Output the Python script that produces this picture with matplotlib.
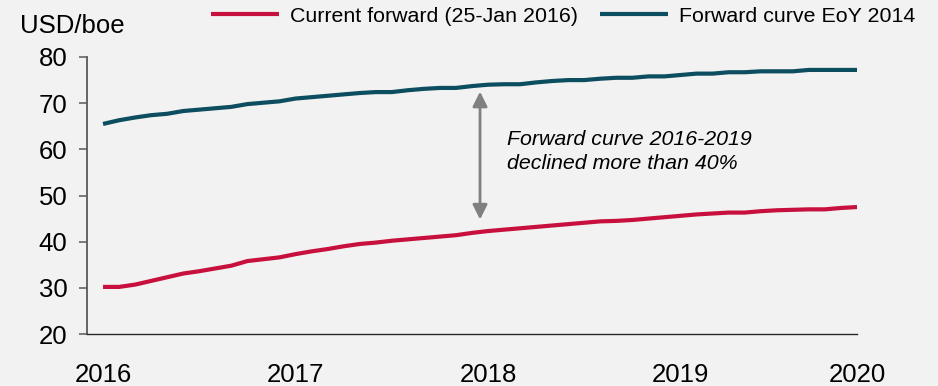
import matplotlib.pyplot as plt
import numpy as np

plt.rcParams["font.family"] = ["Liberation Sans", "DejaVu Sans"]

# monthly forward prices, Jan 2016 .. Dec 2019 (USD/boe)
current_forward = [30.2, 30.2, 30.7, 31.5, 32.3, 33.1, 33.6, 34.2, 34.8, 35.8, 36.2, 36.6,
                   37.3, 37.9, 38.4, 39.0, 39.5, 39.8, 40.2, 40.5, 40.8, 41.1, 41.4, 41.9,
                   42.3, 42.6, 42.9, 43.2, 43.5, 43.8, 44.1, 44.4, 44.5, 44.7, 45.0, 45.3,
                   45.6, 45.9, 46.1, 46.3, 46.3, 46.6, 46.8, 46.9, 47.0, 47.0, 47.3, 47.5]
curve_eoy_2014 = [65.5, 66.3, 66.9, 67.4, 67.7, 68.3, 68.6, 68.9, 69.2, 69.8, 70.1, 70.4,
                  71.0, 71.3, 71.6, 71.9, 72.2, 72.4, 72.4, 72.8, 73.1, 73.3, 73.3, 73.7,
                  74.0, 74.1, 74.1, 74.5, 74.8, 75.0, 75.0, 75.3, 75.5, 75.5, 75.8, 75.8,
                  76.1, 76.4, 76.4, 76.7, 76.7, 76.9, 76.9, 76.9, 77.2, 77.2, 77.2, 77.2]
year_ticks = [0, 12, 24, 36, 47]
year_labels = ["2016", "2017", "2018", "2019", "2020"]
y_ticks = [20, 30, 40, 50, 60, 70, 80]

bg = "#f2f2f2"
red = "#c8103e"
teal = "#0d4d60"

months = np.arange(len(current_forward))

figure = plt.figure(figsize=(9.38, 3.86), dpi=100, facecolor=bg)
axis = figure.add_axes([87 / 938, 1 - 334 / 386, (857 - 87) / 938, (334 - 57) / 386])
axis.set_facecolor(bg)

axis.plot(months, current_forward, color=red, linewidth=3, label="Current forward (25-Jan 2016)",
          solid_capstyle="butt")
axis.plot(months, curve_eoy_2014, color=teal, linewidth=3, label="Forward curve EoY 2014",
          solid_capstyle="butt")

axis.set_xlim(-1, 47)
axis.set_ylim(20, 80)
axis.set_yticks(y_ticks)
axis.set_xticks(year_ticks)
axis.set_xticklabels(year_labels)

for side in ("top", "right"):
    axis.spines[side].set_visible(False)
axis.spines["left"].set_color("#595959")
axis.spines["left"].set_linewidth(1.3)
axis.spines["bottom"].set_color("#262626")
axis.spines["bottom"].set_linewidth(1.0)
axis.tick_params(axis="y", length=6, width=1.1, color="#595959", pad=8, labelsize=18.5)
axis.tick_params(axis="x", length=0, pad=21, labelsize=18.5)

# gap annotation
axis.annotate("", xy=(23.5, 44.8), xytext=(23.5, 72.5),
              arrowprops=dict(arrowstyle="<|-|>", color="#808080", lw=2,
                              mutation_scale=22, shrinkA=0, shrinkB=0))
axis.text(25.2, 59.5, "Forward curve 2016-2019\ndeclined more than 40%", fontsize=15.4,
          style="italic", va="center", ha="left", linespacing=1.32)

figure.text(20 / 938, 1 - 33 / 386, "USD/boe", fontsize=18.5, ha="left", va="baseline")

figure.legend(loc="center left", bbox_to_anchor=(211 / 938, 1 - 16 / 386), ncol=2,
              frameon=False, fontsize=15.4, handlelength=3.2, handletextpad=0.5,
              columnspacing=1.0, borderpad=0, borderaxespad=0)

figure.savefig("out.png", dpi=100, facecolor=bg)
